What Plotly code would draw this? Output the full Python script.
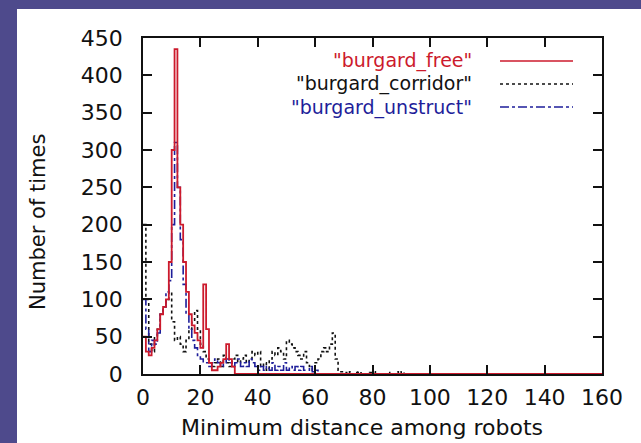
import plotly.graph_objects as go

# ---- data ----
x_vals = list(range(0, 161))

free_head = [50, 30, 25, 35, 45, 60, 80, 90, 100, 150, 300, 435, 250, 200, 150, 110,
             80, 65, 55, 45, 35, 120, 60, 15, 5, 5, 10, 15, 20, 40, 20, 10, 0]
corridor_head = [200, 100, 40, 30, 50, 60, 80, 90, 100, 110, 70, 45, 50, 40, 30, 45,
                 60, 70, 85, 60, 40, 30, 20, 15, 10, 15, 20, 10, 25, 15, 10, 20,
                 25, 15, 20, 25, 15, 20, 30, 25, 30, 10, 15, 5, 20, 30, 25, 35,
                 30, 20, 45, 40, 35, 30, 25, 20, 30, 15, 10, 5, 15, 20, 30, 35,
                 30, 40, 55, 20, 5, 3, 2, 0, 3, 0, 2, 3, 0, 0, 0, 2, 3, 0, 0, 0,
                 0, 2, 0, 0, 3, 0, 3]
unstruct_head = [100, 60, 30, 45, 40, 55, 80, 90, 110, 125, 200, 310, 250, 180, 120, 80,
                 60, 45, 35, 25, 20, 15, 15, 10, 15, 20, 15, 10, 15, 20, 15, 10,
                 15, 20, 10, 15, 10, 20, 15, 10, 5, 10, 5, 10, 5, 15, 5, 10,
                 5, 15, 5, 10, 5, 10, 5, 10, 5, 5, 10, 3, 5]

def pad(head):
    return head + [0] * (len(x_vals) - len(head))

burgard_free = pad(free_head)
burgard_corridor = pad(corridor_head)
burgard_unstruct = pad(unstruct_head)

series_names = ['"burgard_free"', '"burgard_corridor"', '"burgard_unstruct"']
x_ticks = [0, 20, 40, 60, 80, 100, 120, 140, 160]
y_ticks = [0, 50, 100, 150, 200, 250, 300, 350, 400, 450]

# ---- styles ----
RED = "#cc1a2c"
BLACK = "#111111"
BLUE = "#1e1e9a"
PURPLE = "#4e4a8c"
FONT = "DejaVu Sans"

fig = go.Figure()
fig.add_trace(go.Scatter(x=x_vals, y=burgard_corridor, mode="lines", line_shape="hv",
                         line=dict(color=BLACK, width=1.6, dash="dot"), name=series_names[1]))
fig.add_trace(go.Scatter(x=x_vals, y=burgard_unstruct, mode="lines", line_shape="hv",
                         line=dict(color=BLUE, width=1.6, dash="dashdot"), name=series_names[2]))
fig.add_trace(go.Scatter(x=x_vals, y=burgard_free, mode="lines", line_shape="hv",
                         line=dict(color=RED, width=1.8), name=series_names[0]))

# plot-area pixel geometry
L, R, T, B = 143, 602, 38, 374
W, H = 641, 443
pw, ph = R - L, B - T

def px(xp):
    return (xp - L) / pw

def py(yp):
    return (B - yp) / ph

shapes = [dict(type="rect", xref="paper", yref="paper", x0=px(17), x1=px(W + 5),
               y0=py(H + 5), y1=py(9), fillcolor="white", line=dict(width=0), layer="below")]
annotations = []

legend_rows = [(series_names[0], RED, "solid", 61),
               (series_names[1], BLACK, "dot", 84),
               (series_names[2], BLUE, "dashdot", 107)]
for text, color, dash, yrow in legend_rows:
    annotations.append(dict(xref="paper", yref="paper", x=px(474), y=py(yrow), text=text,
                            showarrow=False, xanchor="right", yanchor="middle",
                            font=dict(family=FONT, size=19, color=color)))
    shapes.append(dict(type="line", xref="paper", yref="paper", x0=px(500), x1=px(573),
                       y0=py(yrow), y1=py(yrow), line=dict(color=color, width=1.6, dash=dash)))

annotations.append(dict(xref="paper", yref="paper", x=px(38), y=py(222), text="Number of times",
                        textangle=-90, showarrow=False, xanchor="center", yanchor="middle",
                        font=dict(family=FONT, size=21, color=BLACK)))
annotations.append(dict(xref="paper", yref="paper", x=px(362), y=py(427),
                        text="Minimum distance among robots", showarrow=False,
                        xanchor="center", yanchor="middle",
                        font=dict(family=FONT, size=22, color=BLACK)))

axis_common = dict(showline=True, linecolor=BLACK, linewidth=1.6, mirror="ticks",
                   ticks="inside", ticklen=9, tickwidth=1.6, tickcolor=BLACK,
                   showgrid=False, zeroline=False,
                   tickfont=dict(family=FONT, size=22, color=BLACK))

fig.update_layout(
    width=W, height=H,
    margin=dict(l=L, r=W - R, t=T, b=H - B, autoexpand=False),
    paper_bgcolor=PURPLE, plot_bgcolor="white",
    showlegend=False,
    shapes=shapes, annotations=annotations,
    xaxis=dict(range=[0, 160], tickvals=x_ticks, ticktext=[str(v) for v in x_ticks],
               ticklabelstandoff=3, **axis_common),
    yaxis=dict(range=[0, 450], tickvals=y_ticks, ticktext=[str(v) for v in y_ticks],
               ticklabelstandoff=14, **axis_common),
)

fig.write_html("out.html", config={"displayModeBar": False},
               post_script="document.body.style.margin='0';document.body.style.padding='0';")
